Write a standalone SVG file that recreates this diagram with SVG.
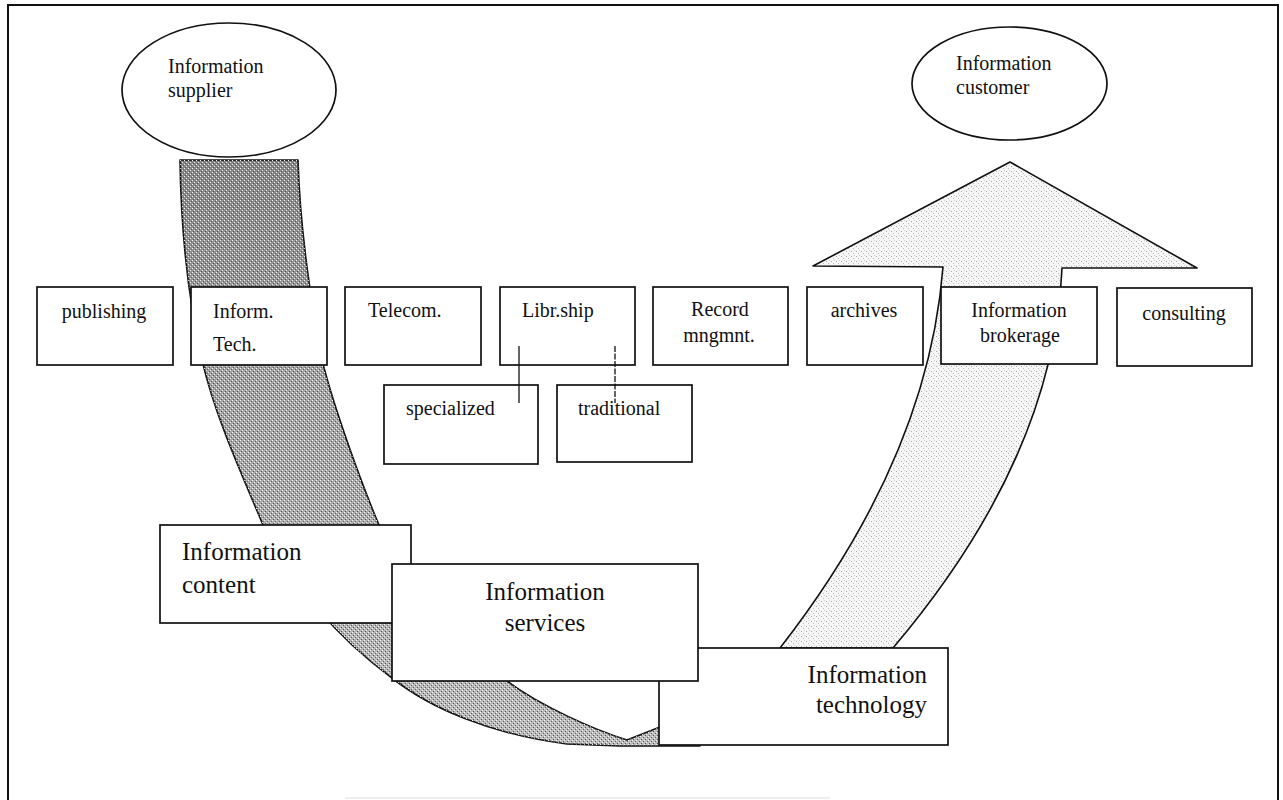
<svg xmlns="http://www.w3.org/2000/svg" width="1283" height="800" viewBox="0 0 1283 800">
<style>
  .box { fill: #ffffff; stroke: #111; stroke-width: 1.7; }
  .lbl { font-family: "Liberation Serif", "Times New Roman", serif; font-size: 20px; fill: #111; }
  .big { font-family: "Liberation Serif", "Times New Roman", serif; font-size: 25px; fill: #111; }
  .edge { stroke: #111; stroke-width: 1.6; stroke-linejoin: round; }
  .conn { stroke: #111; stroke-width: 1.3; fill: none; }
</style>
<defs>
  <linearGradient id="darkGrad" gradientUnits="userSpaceOnUse" x1="0" y1="160" x2="0" y2="746">
    <stop offset="0" stop-color="#868686"/>
    <stop offset="0.35" stop-color="#a2a2a2"/>
    <stop offset="1" stop-color="#bcbcbc"/>
  </linearGradient>
  <pattern id="darkDots" width="4" height="4" patternUnits="userSpaceOnUse">
    <rect x="0" y="0" width="1" height="1" fill="#f0f0f0"/>
    <rect x="2" y="2" width="1" height="1" fill="#e8e8e8"/>
    <rect x="1" y="3" width="1" height="1" fill="#555"/>
    <rect x="3" y="1" width="1" height="1" fill="#666"/>
  </pattern>
  <pattern id="lightDots" width="5" height="5" patternUnits="userSpaceOnUse">
    <rect width="5" height="5" fill="#f6f6f6"/>
    <rect x="1" y="1" width="1" height="1" fill="#a8a8a8"/>
    <rect x="3" y="3" width="1" height="1" fill="#bcbcbc"/>
    <rect x="4" y="0" width="1" height="1" fill="#cfcfcf"/>
  </pattern>
  <path id="bandShape" d="M180,160 C181,230 188,300 203,364 C215,415 240,470 263,525 C295,590 340,640 392,678 C430,708 490,734 567,744 L620,746 L700,746 L700,712 L660,727 L627,740 C595,730 540,706 507,681 C460,630 410,570 379,525 C360,480 335,410 323,364 C312,310 300,230 298,160 Z"/>
</defs>

<rect width="1283" height="800" fill="#ffffff"/>

<g id="frame" fill="none" stroke="#111" stroke-width="2">
  <path d="M8,800 L8,5 L1278,5 L1278,800"/>
  <line x1="345" y1="798" x2="830" y2="798" stroke="#dddddd" stroke-width="1"/>
</g>

<g id="supplier-flow">
  <use href="#bandShape" fill="url(#darkGrad)" class="edge"/>
  <use href="#bandShape" fill="url(#darkDots)" stroke="none"/>
</g>

<g id="customer-arrow">
  <path d="M813,266 L1010,162 L1197,268 L1062,268 Q1054,458 893,648 L780,648 Q928,458 943,267 Z" fill="url(#lightDots)" class="edge"/>
</g>

<g id="supplier">
  <ellipse cx="229" cy="90" rx="107" ry="67" class="box"/>
  <text class="lbl" x="168" y="73">Information</text>
  <text class="lbl" x="168" y="97">supplier</text>
</g>

<g id="customer">
  <ellipse cx="1009.5" cy="83.5" rx="97.5" ry="56.5" class="box"/>
  <text class="lbl" x="956" y="70">Information</text>
  <text class="lbl" x="956" y="94">customer</text>
</g>

<g id="publishing">
  <rect x="37" y="287" width="136" height="78" class="box"/>
  <text class="lbl" x="104" y="318" text-anchor="middle">publishing</text>
</g>
<g id="inform-tech">
  <rect x="191" y="287" width="136" height="78" class="box"/>
  <text class="lbl" x="213" y="318">Inform.</text>
  <text class="lbl" x="213" y="351">Tech.</text>
</g>
<g id="telecom">
  <rect x="345" y="287" width="136" height="78" class="box"/>
  <text class="lbl" x="368" y="317">Telecom.</text>
</g>
<g id="librship">
  <rect x="500" y="287" width="135" height="78" class="box"/>
  <text class="lbl" x="522" y="317">Libr.ship</text>
</g>
<g id="record">
  <rect x="653" y="287" width="135" height="78" class="box"/>
  <text class="lbl" x="720" y="316" text-anchor="middle">Record</text>
  <text class="lbl" x="719" y="342" text-anchor="middle">mngmnt.</text>
</g>
<g id="archives">
  <rect x="807" y="287" width="116" height="78" class="box"/>
  <text class="lbl" x="864" y="317" text-anchor="middle">archives</text>
</g>
<g id="brokerage">
  <rect x="941" y="287" width="156" height="77" class="box"/>
  <text class="lbl" x="1019" y="317" text-anchor="middle">Information</text>
  <text class="lbl" x="1020" y="342" text-anchor="middle">brokerage</text>
</g>
<g id="consulting">
  <rect x="1117" y="288" width="135" height="78" class="box"/>
  <text class="lbl" x="1184" y="320" text-anchor="middle">consulting</text>
</g>

<g id="specialized">
  <rect x="384" y="385" width="154" height="79" class="box"/>
  <text class="lbl" x="406" y="415">specialized</text>
</g>
<g id="traditional">
  <rect x="557" y="385" width="135" height="77" class="box"/>
  <text class="lbl" x="578" y="415">traditional</text>
</g>

<g id="connectors">
  <line x1="519" y1="346" x2="519" y2="403" class="conn"/>
  <line x1="615" y1="346" x2="615" y2="403" class="conn" stroke-dasharray="6 1.5"/>
</g>

<g id="info-technology">
  <rect x="659" y="648" width="289" height="97" class="box"/>
  <text class="big" x="927" y="683" text-anchor="end">Information</text>
  <text class="big" x="927" y="713" text-anchor="end">technology</text>
</g>
<g id="info-content">
  <rect x="160" y="525" width="251" height="98" class="box"/>
  <text class="big" x="182" y="560">Information</text>
  <text class="big" x="182" y="593">content</text>
</g>
<g id="info-services">
  <rect x="392" y="564" width="306" height="117" class="box"/>
  <text class="big" x="545" y="600" text-anchor="middle">Information</text>
  <text class="big" x="545" y="631" text-anchor="middle">services</text>
</g>
</svg>
